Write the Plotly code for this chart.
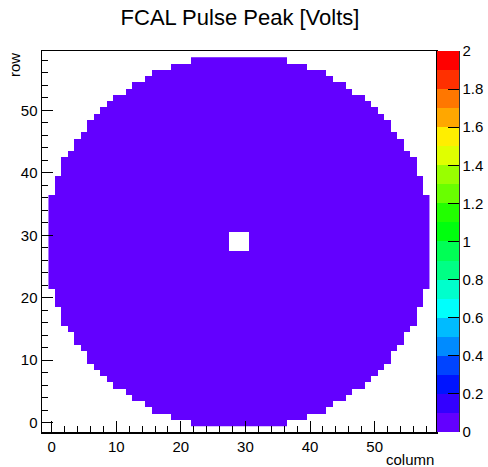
import colorsys
import plotly.graph_objects as go

# ---------------- data ----------------
title_text = "FCAL Pulse Peak [Volts]"
x_title = "column"
y_title = "row"

n_cols = 59
n_rows = 59

# first / last filled column for every row 0..58
row_first_col = [22, 19, 16, 15, 13, 12, 10, 9, 8, 7, 6, 6, 5, 4, 4, 3, 2, 2, 2, 1, 1, 1,
                 0, 0, 0, 0, 0, 0, 0, 0, 0, 0, 0, 0, 0, 0, 0,
                 1, 1, 1, 2, 2, 2, 3, 4, 4, 5, 6, 6, 7, 8, 9, 10, 12, 13, 15, 16, 19, 22]
row_last_col = [36, 39, 42, 43, 45, 46, 48, 49, 50, 51, 52, 52, 53, 54, 54, 55, 56, 56, 56, 57, 57, 57,
                58, 58, 58, 58, 58, 58, 58, 58, 58, 58, 58, 58, 58, 58, 58,
                57, 57, 57, 56, 56, 56, 55, 54, 54, 53, 52, 52, 51, 50, 49, 48, 46, 45, 43, 42, 39, 36]

# beam hole (empty cells)
hole_rows = [28, 29, 30]
hole_cols = [28, 29, 30]

# every filled cell falls in the lowest colour band (0 - 0.1 V)
cell_value = 0.05

x_tick_vals = [0, 10, 20, 30, 40, 50]
y_tick_vals = [0, 10, 20, 30, 40, 50]
cbar_tick_vals = [0, 0.2, 0.4, 0.6, 0.8, 1.0, 1.2, 1.4, 1.6, 1.8, 2.0]
cbar_tick_text = ["0", "0.2", "0.4", "0.6", "0.8", "1", "1.2", "1.4", "1.6", "1.8", "2"]
z_min, z_max, n_contours = 0.0, 2.0, 20

# ---------------- build table ----------------
z = [[None] * n_cols for _ in range(n_rows)]
for r in range(n_rows):
    for c in range(row_first_col[r], row_last_col[r] + 1):
        if r in hole_rows and c in hole_cols:
            continue
        z[r][c] = cell_value

# ROOT "pretty palette" (violet -> red), 20 contours
def root_color(j):
    i = int((j + 0.99) * 50 / n_contours)
    hue = 280 - (i + 1) * 5.6
    r, g, b = colorsys.hls_to_rgb(hue / 360.0, 0.5, 1.0)
    return f"rgb({round(r * 255)},{round(g * 255)},{round(b * 255)})"

colorscale = []
for j in range(n_contours):
    col = root_color(j)
    colorscale.append([j / n_contours, col])
    colorscale.append([(j + 1) / n_contours, col])

FONT = "Liberation Sans, Arial, Helvetica, sans-serif"

W, H = 488, 467
ML, MR, MT, MB = 42, 52, 51, 35
PW = W - ML - MR
PH = H - MT - MB

cb_left = 437.3
cb_thick = 22
cb_x = (cb_left - ML) / PW
cb_right_paper = (cb_left + cb_thick - ML) / PW

fig = go.Figure(
    go.Heatmap(
        z=z,
        x=list(range(n_cols)),
        y=list(range(n_rows)),
        colorscale=colorscale,
        zmin=z_min,
        zmax=z_max,
        hoverinfo="skip",
        colorbar=dict(
            x=cb_x, xanchor="left", xpad=0, ypad=0,
            y=0.5, yanchor="middle", len=1, lenmode="fraction",
            thickness=cb_thick, thicknessmode="pixels",
            outlinewidth=0,
            ticks="inside", ticklen=11, tickwidth=1, tickcolor="black",
            tickvals=cbar_tick_vals, ticktext=cbar_tick_text,
            tickfont=dict(family=FONT, size=15, color="black"),
        ),
    )
)

axis_common = dict(
    showgrid=False, zeroline=False, automargin=False,
    showline=True, linecolor="black", linewidth=1.5, mirror=True,
    ticks="inside", ticklen=11, tickwidth=1, tickcolor="black",
    tickfont=dict(family=FONT, size=15, color="black"),
    minor=dict(dtick=2, tick0=0, ticks="inside", ticklen=6, tickwidth=1,
               tickcolor="black", showgrid=False),
)

fig.update_xaxes(range=[-1.5, 59.5], tickvals=x_tick_vals, **axis_common)
fig.update_yaxes(range=[-1.5, 59.5], tickvals=y_tick_vals, **axis_common)

fig.update_layout(
    width=W, height=H,
    margin=dict(l=ML, r=MR, t=MT, b=MB, pad=0, autoexpand=False),
    paper_bgcolor="white", plot_bgcolor="white",
    font=dict(family=FONT, color="black"),
    title=dict(text=title_text, x=240 / W, xanchor="center",
               y=1 - 17.5 / H, yanchor="middle", yref="container",
               font=dict(family=FONT, size=22, color="black")),
    annotations=[
        dict(text=y_title, xref="paper", yref="paper",
             x=(14 - ML) / PW, y=1.0, xanchor="center", yanchor="top",
             textangle=-90, showarrow=False,
             font=dict(family=FONT, size=15, color="black")),
        dict(text=x_title, xref="paper", yref="paper",
             x=1.0, y=-(459 - (H - MB)) / PH, xanchor="right", yanchor="middle",
             showarrow=False,
             font=dict(family=FONT, size=15, color="black")),
    ],
    shapes=[
        dict(type="line", xref="paper", yref="paper",
             x0=cb_right_paper, x1=cb_right_paper, y0=0, y1=1,
             line=dict(color="black", width=1)),
    ],
)

fig.write_html("out.html",
               config={"displayModeBar": False, "staticPlot": True},
               post_script="document.body.style.margin='0';document.body.style.overflow='hidden';")
